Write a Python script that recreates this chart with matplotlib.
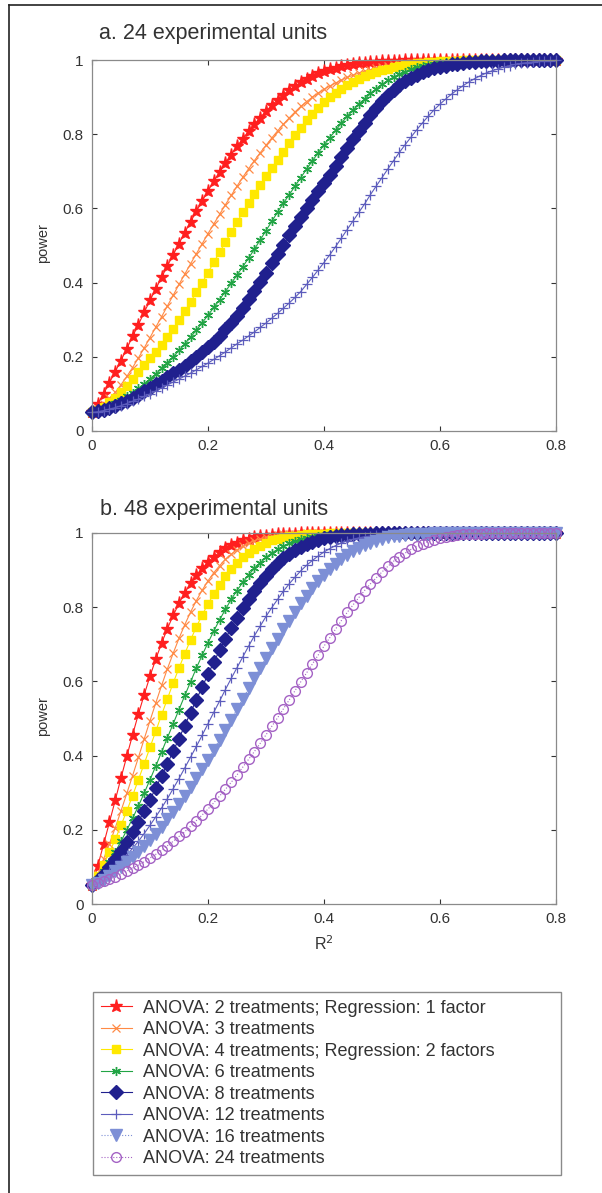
import matplotlib
matplotlib.use("Agg")
import matplotlib.pyplot as plt
from matplotlib.lines import Line2D
import numpy as np

plt.rcParams['font.family'] = ['Liberation Sans', 'DejaVu Sans']

# R^2 grid, 0 to 0.8 in steps of 0.01
r2 = np.round(np.arange(81) * 0.01, 2)

x_ticks = [0, 0.2, 0.4, 0.6, 0.8]
x_tick_labels = ['0', '0.2', '0.4', '0.6', '0.8']
y_ticks = [0, 0.2, 0.4, 0.6, 0.8, 1]
y_tick_labels = ['0', '0.2', '0.4', '0.6', '0.8', '1']

labels = {
    2: 'ANOVA: 2 treatments; Regression: 1 factor',
    3: 'ANOVA: 3 treatments',
    4: 'ANOVA: 4 treatments; Regression: 2 factors',
    6: 'ANOVA: 6 treatments',
    8: 'ANOVA: 8 treatments',
    12: 'ANOVA: 12 treatments',
    16: 'ANOVA: 16 treatments',
    24: 'ANOVA: 24 treatments',
}

# ---- panel a: 24 experimental units ----
power_a_2 = [0.05, 0.073, 0.10, 0.13, 0.16, 0.19, 0.222, 0.255, 0.287, 0.32,
             0.352, 0.383, 0.414, 0.445, 0.475, 0.505, 0.535, 0.564, 0.592, 0.62,
             0.647, 0.673, 0.698, 0.722, 0.745, 0.767, 0.788, 0.808, 0.827, 0.845,
             0.862, 0.878, 0.893, 0.907, 0.919, 0.93, 0.94, 0.949, 0.957, 0.964,
             0.97, 0.975, 0.979, 0.983, 0.986, 0.989, 0.991, 0.993, 0.994, 0.995,
             0.996, 0.997, 0.998, 0.998, 0.999, 0.999, 1, 1, 1, 1,
             1, 1, 1, 1, 1, 1, 1, 1, 1, 1,
             1, 1, 1, 1, 1, 1, 1, 1, 1, 1, 1]
power_a_3 = [0.05, 0.06, 0.072, 0.088, 0.104, 0.125, 0.147, 0.171, 0.197, 0.224,
             0.252, 0.28, 0.308, 0.337, 0.366, 0.395, 0.423, 0.451, 0.478, 0.505,
             0.532, 0.558, 0.584, 0.61, 0.635, 0.66, 0.684, 0.707, 0.729, 0.75,
             0.77, 0.79, 0.809, 0.827, 0.844, 0.86, 0.875, 0.888, 0.90, 0.911,
             0.921, 0.93, 0.938, 0.946, 0.953, 0.959, 0.965, 0.97, 0.974, 0.978,
             0.982, 0.985, 0.987, 0.989, 0.991, 0.993, 0.994, 0.995, 0.996, 0.997,
             0.998, 0.998, 0.999, 0.999, 1, 1, 1, 1, 1, 1,
             1, 1, 1, 1, 1, 1, 1, 1, 1, 1, 1]
power_a_4 = [0.05, 0.057, 0.066, 0.077, 0.09, 0.105, 0.122, 0.141, 0.16, 0.178,
             0.196, 0.214, 0.233, 0.254, 0.276, 0.299, 0.323, 0.348, 0.374, 0.40,
             0.427, 0.455, 0.482, 0.509, 0.536, 0.563, 0.589, 0.615, 0.64, 0.664,
             0.686, 0.708, 0.73, 0.752, 0.775, 0.797, 0.818, 0.837, 0.855, 0.871,
             0.886, 0.899, 0.911, 0.922, 0.932, 0.941, 0.949, 0.956, 0.962, 0.968,
             0.973, 0.977, 0.981, 0.984, 0.987, 0.989, 0.991, 0.993, 0.994, 0.995,
             0.996, 0.997, 0.998, 0.998, 0.999, 0.999, 1, 1, 1, 1,
             1, 1, 1, 1, 1, 1, 1, 1, 1, 1, 1]
power_a_6 = [0.05, 0.055, 0.06, 0.067, 0.075, 0.083, 0.093, 0.103, 0.115, 0.127,
             0.14, 0.154, 0.169, 0.184, 0.20, 0.217, 0.235, 0.253, 0.272, 0.292,
             0.312, 0.333, 0.354, 0.376, 0.398, 0.42, 0.443, 0.466, 0.49, 0.515,
             0.54, 0.565, 0.59, 0.614, 0.637, 0.66, 0.683, 0.706, 0.728, 0.75,
             0.771, 0.791, 0.81, 0.83, 0.848, 0.865, 0.881, 0.895, 0.91, 0.922,
             0.934, 0.945, 0.954, 0.962, 0.969, 0.975, 0.98, 0.984, 0.987, 0.99,
             0.992, 0.994, 0.995, 0.996, 0.997, 0.998, 0.998, 0.999, 0.999, 1,
             1, 1, 1, 1, 1, 1, 1, 1, 1, 1, 1]
power_a_8 = [0.05, 0.053, 0.057, 0.062, 0.068, 0.075, 0.082, 0.09, 0.098, 0.107,
             0.117, 0.126, 0.135, 0.145, 0.155, 0.165, 0.176, 0.188, 0.20, 0.213,
             0.227, 0.241, 0.256, 0.274, 0.292, 0.311, 0.332, 0.355, 0.378, 0.402,
             0.427, 0.452, 0.477, 0.502, 0.527, 0.552, 0.576, 0.60, 0.623, 0.646,
             0.668, 0.691, 0.714, 0.738, 0.762, 0.786, 0.809, 0.831, 0.852, 0.871,
             0.889, 0.905, 0.919, 0.932, 0.943, 0.952, 0.96, 0.967, 0.973, 0.978,
             0.982, 0.985, 0.988, 0.99, 0.992, 0.994, 0.995, 0.996, 0.997, 0.998,
             0.998, 0.999, 0.999, 1, 1, 1, 1, 1, 1, 1, 1]
power_a_12 = [0.05, 0.052, 0.055, 0.059, 0.063, 0.068, 0.074, 0.08, 0.086, 0.093,
              0.10, 0.108, 0.116, 0.124, 0.132, 0.14, 0.148, 0.156, 0.165, 0.174,
              0.183, 0.193, 0.203, 0.213, 0.224, 0.235, 0.245, 0.256, 0.267, 0.279,
              0.291, 0.304, 0.317, 0.331, 0.345, 0.36, 0.376, 0.395, 0.414, 0.434,
              0.454, 0.475, 0.497, 0.52, 0.543, 0.566, 0.589, 0.612, 0.637, 0.66,
              0.683, 0.706, 0.729, 0.751, 0.772, 0.792, 0.812, 0.831, 0.849, 0.866,
              0.881, 0.895, 0.908, 0.92, 0.931, 0.941, 0.95, 0.958, 0.965, 0.971,
              0.976, 0.981, 0.985, 0.988, 0.991, 0.993, 0.995, 0.996, 0.997, 0.998, 0.999]

# ---- panel b: 48 experimental units ----
power_b_2 = [0.05, 0.103, 0.161, 0.22, 0.279, 0.34, 0.398, 0.456, 0.512, 0.564,
             0.614, 0.66, 0.703, 0.742, 0.778, 0.81, 0.839, 0.864, 0.886, 0.905,
             0.922, 0.936, 0.948, 0.959, 0.967, 0.974, 0.98, 0.984, 0.988, 0.991,
             0.993, 0.995, 0.996, 0.997, 0.998, 0.998, 0.999, 0.999, 1, 1,
             1, 1, 1, 1, 1, 1, 1, 1, 1, 1,
             1, 1, 1, 1, 1, 1, 1, 1, 1, 1,
             1, 1, 1, 1, 1, 1, 1, 1, 1, 1,
             1, 1, 1, 1, 1, 1, 1, 1, 1, 1, 1]
power_b_3 = [0.05, 0.08, 0.121, 0.162, 0.205, 0.251, 0.298, 0.346, 0.395, 0.445,
             0.494, 0.542, 0.589, 0.634, 0.676, 0.716, 0.753, 0.787, 0.818, 0.846,
             0.871, 0.893, 0.912, 0.929, 0.943, 0.955, 0.964, 0.972, 0.979, 0.984,
             0.988, 0.991, 0.994, 0.996, 0.997, 0.998, 0.998, 0.999, 0.999, 1,
             1, 1, 1, 1, 1, 1, 1, 1, 1, 1,
             1, 1, 1, 1, 1, 1, 1, 1, 1, 1,
             1, 1, 1, 1, 1, 1, 1, 1, 1, 1,
             1, 1, 1, 1, 1, 1, 1, 1, 1, 1, 1]
power_b_4 = [0.05, 0.075, 0.106, 0.139, 0.174, 0.212, 0.251, 0.292, 0.335, 0.378,
             0.422, 0.466, 0.51, 0.553, 0.596, 0.636, 0.675, 0.712, 0.747, 0.779,
             0.809, 0.836, 0.861, 0.883, 0.902, 0.919, 0.934, 0.946, 0.957, 0.966,
             0.974, 0.98, 0.985, 0.988, 0.991, 0.993, 0.995, 0.996, 0.997, 0.998,
             0.998, 0.999, 0.999, 1, 1, 1, 1, 1, 1, 1,
             1, 1, 1, 1, 1, 1, 1, 1, 1, 1,
             1, 1, 1, 1, 1, 1, 1, 1, 1, 1,
             1, 1, 1, 1, 1, 1, 1, 1, 1, 1, 1]
power_b_6 = [0.05, 0.068, 0.09, 0.114, 0.14, 0.169, 0.199, 0.231, 0.264, 0.299,
             0.335, 0.372, 0.41, 0.448, 0.486, 0.524, 0.562, 0.599, 0.636, 0.671,
             0.704, 0.736, 0.766, 0.794, 0.821, 0.845, 0.867, 0.887, 0.905, 0.92,
             0.934, 0.946, 0.956, 0.965, 0.972, 0.978, 0.983, 0.987, 0.99, 0.992,
             0.994, 0.996, 0.997, 0.998, 0.998, 0.999, 0.999, 1, 1, 1,
             1, 1, 1, 1, 1, 1, 1, 1, 1, 1,
             1, 1, 1, 1, 1, 1, 1, 1, 1, 1,
             1, 1, 1, 1, 1, 1, 1, 1, 1, 1, 1]
power_b_8 = [0.05, 0.065, 0.082, 0.101, 0.121, 0.144, 0.168, 0.194, 0.222, 0.251,
             0.281, 0.313, 0.345, 0.378, 0.412, 0.446, 0.481, 0.516, 0.551, 0.585,
             0.619, 0.652, 0.684, 0.715, 0.744, 0.772, 0.798, 0.822, 0.845, 0.866,
             0.885, 0.902, 0.918, 0.932, 0.944, 0.954, 0.963, 0.971, 0.977, 0.982,
             0.986, 0.989, 0.992, 0.994, 0.995, 0.996, 0.997, 0.998, 0.998, 0.999,
             0.999, 1, 1, 1, 1, 1, 1, 1, 1, 1,
             1, 1, 1, 1, 1, 1, 1, 1, 1, 1,
             1, 1, 1, 1, 1, 1, 1, 1, 1, 1, 1]
power_b_12 = [0.05, 0.06, 0.072, 0.085, 0.099, 0.115, 0.132, 0.15, 0.169, 0.19,
              0.212, 0.235, 0.259, 0.284, 0.311, 0.338, 0.367, 0.396, 0.425, 0.455,
              0.486, 0.517, 0.547, 0.578, 0.608, 0.637, 0.666, 0.695, 0.723, 0.749,
              0.775, 0.799, 0.821, 0.843, 0.863, 0.881, 0.898, 0.913, 0.926, 0.938,
              0.949, 0.958, 0.966, 0.973, 0.979, 0.983, 0.987, 0.99, 0.992, 0.994,
              0.995, 0.996, 0.997, 0.998, 0.998, 0.999, 0.999, 1, 1, 1,
              1, 1, 1, 1, 1, 1, 1, 1, 1, 1,
              1, 1, 1, 1, 1, 1, 1, 1, 1, 1, 1]
power_b_16 = [0.05, 0.057, 0.066, 0.076, 0.088, 0.10, 0.112, 0.126, 0.14, 0.156,
              0.172, 0.19, 0.208, 0.228, 0.248, 0.27, 0.292, 0.316, 0.34, 0.364,
              0.389, 0.416, 0.443, 0.47, 0.497, 0.525, 0.553, 0.581, 0.608, 0.636,
              0.663, 0.689, 0.715, 0.74, 0.764, 0.787, 0.81, 0.831, 0.851, 0.87,
              0.887, 0.902, 0.916, 0.929, 0.941, 0.951, 0.96, 0.967, 0.974, 0.979,
              0.984, 0.988, 0.991, 0.993, 0.995, 0.996, 0.997, 0.998, 0.998, 0.999,
              0.999, 1, 1, 1, 1, 1, 1, 1, 1, 1,
              1, 1, 1, 1, 1, 1, 1, 1, 1, 1, 1]
power_b_24 = [0.05, 0.056, 0.062, 0.068, 0.074, 0.081, 0.089, 0.097, 0.105, 0.114,
              0.124, 0.134, 0.145, 0.157, 0.169, 0.182, 0.195, 0.21, 0.225, 0.24,
              0.256, 0.273, 0.291, 0.309, 0.328, 0.348, 0.369, 0.39, 0.411, 0.433,
              0.456, 0.479, 0.502, 0.526, 0.55, 0.575, 0.599, 0.623, 0.647, 0.671,
              0.695, 0.718, 0.741, 0.764, 0.786, 0.806, 0.826, 0.845, 0.863, 0.879,
              0.895, 0.91, 0.924, 0.936, 0.946, 0.956, 0.964, 0.971, 0.977, 0.982,
              0.987, 0.99, 0.992, 0.994, 0.996, 0.997, 0.998, 0.998, 0.999, 0.999,
              1, 1, 1, 1, 1, 1, 1, 1, 1, 1, 1]

panel_a = {2: power_a_2, 3: power_a_3, 4: power_a_4, 6: power_a_6,
           8: power_a_8, 12: power_a_12}
panel_b = {2: power_b_2, 3: power_b_3, 4: power_b_4, 6: power_b_6,
           8: power_b_8, 12: power_b_12, 16: power_b_16, 24: power_b_24}

styles = {
    2: dict(color='#ff1f1f', marker='*', ms=9.5, mfc='#ff1f1f', mec='#ff1f1f', ls='-', lw=0.8),
    3: dict(color='#ff8a45', marker='x', ms=5.5, mec='#ff8a45', ls='-', lw=0.8, mew=0.9),
    4: dict(color='#ffe800', marker='s', ms=6.3, mfc='#ffe800', mec='#ffe800', ls='-', lw=0.8),
    6: dict(color='#22a445', marker=(6, 2, 0), ms=6.5, mec='#22a445', ls='-', lw=0.8, mew=1.0),
    8: dict(color='#20208e', marker='D', ms=7.5, mfc='#20208e', mec='#20208e', ls='-', lw=0.8),
    12: dict(color='#5c5cbc', marker='+', ms=6.5, mec='#5c5cbc', ls='-', lw=0.8, mew=0.9),
    16: dict(color='#7d8fd6', marker='v', ms=8, mfc='#7d8fd6', mec='#7d8fd6', ls=':', lw=0.8),
    24: dict(color='#a462c4', marker='o', ms=7, mfc='none', mec='#a462c4', ls=':', lw=0.8, mew=1.0),
}

fig = plt.figure(figsize=(6.02, 11.93), dpi=100)
W, H = 602.0, 1193.0


def style_axes(ax):
    ax.set_xlim(0, 0.8)
    ax.set_ylim(0, 1)
    ax.set_xticks(x_ticks)
    ax.set_xticklabels(x_tick_labels)
    ax.set_yticks(y_ticks)
    ax.set_yticklabels(y_tick_labels)
    ax.tick_params(direction='in', length=3.5, width=0.8, colors='#333333',
                   top=True, right=True, labelsize=11, pad=6)
    for t in ax.xaxis.get_ticklines() + ax.yaxis.get_ticklines():
        t.set_color('#808080')
    for sp in ax.spines.values():
        sp.set_color('#8a8a8a')
        sp.set_linewidth(0.9)


ax_a = fig.add_axes([92 / W, 1 - 431 / H, 464 / W, 371 / H])
ax_b = fig.add_axes([92 / W, 1 - 904 / H, 464 / W, 371 / H])

for k, vals in panel_a.items():
    ax_a.plot(r2, vals, clip_on=False, **styles[k])
handles = []
for k, vals in panel_b.items():
    ln, = ax_b.plot(r2, vals, clip_on=False, label=labels[k], **styles[k])
    handles.append(ln)

style_axes(ax_a)
style_axes(ax_b)

fig.text(99 / W, 1 - 33 / H, 'a. 24 experimental units', ha='left', va='center',
         fontsize=15.5, color='#333333')
fig.text(100 / W, 1 - 510 / H, 'b. 48 experimental units', ha='left', va='center',
         fontsize=15.5, color='#333333')
fig.text(43 / W, 1 - 243 / H, 'power', rotation=90, ha='center', va='center',
         fontsize=10.5, color='#333333')
fig.text(43 / W, 1 - 716 / H, 'power', rotation=90, ha='center', va='center',
         fontsize=10.5, color='#333333')
fig.text(324 / W, 1 - 944 / H, 'R$^2$', ha='center', va='center',
         fontsize=11.5, color='#333333')

leg = fig.legend(handles, [labels[k] for k in panel_b], loc='upper left',
                 bbox_to_anchor=(93 / W, 1 - 1172 / H, 468 / W, 180 / H),
                 mode='expand', borderaxespad=0, fontsize=13, labelspacing=0.25,
                 handlelength=1.75, handletextpad=0.6, borderpad=0.42,
                 fancybox=False, edgecolor='#8a8a8a', framealpha=1)
leg.get_frame().set_linewidth(1.0)
for t in leg.get_texts():
    t.set_color('#333333')

# page frame (left and top edges)
fig.add_artist(Line2D([9 / W, 9 / W], [0, 1 - 5 / H], transform=fig.transFigure,
                      color='#222222', lw=1.2))
fig.add_artist(Line2D([9 / W, 1], [1 - 5 / H, 1 - 5 / H], transform=fig.transFigure,
                      color='#222222', lw=1.2))

fig.savefig('out.png', dpi=100)
